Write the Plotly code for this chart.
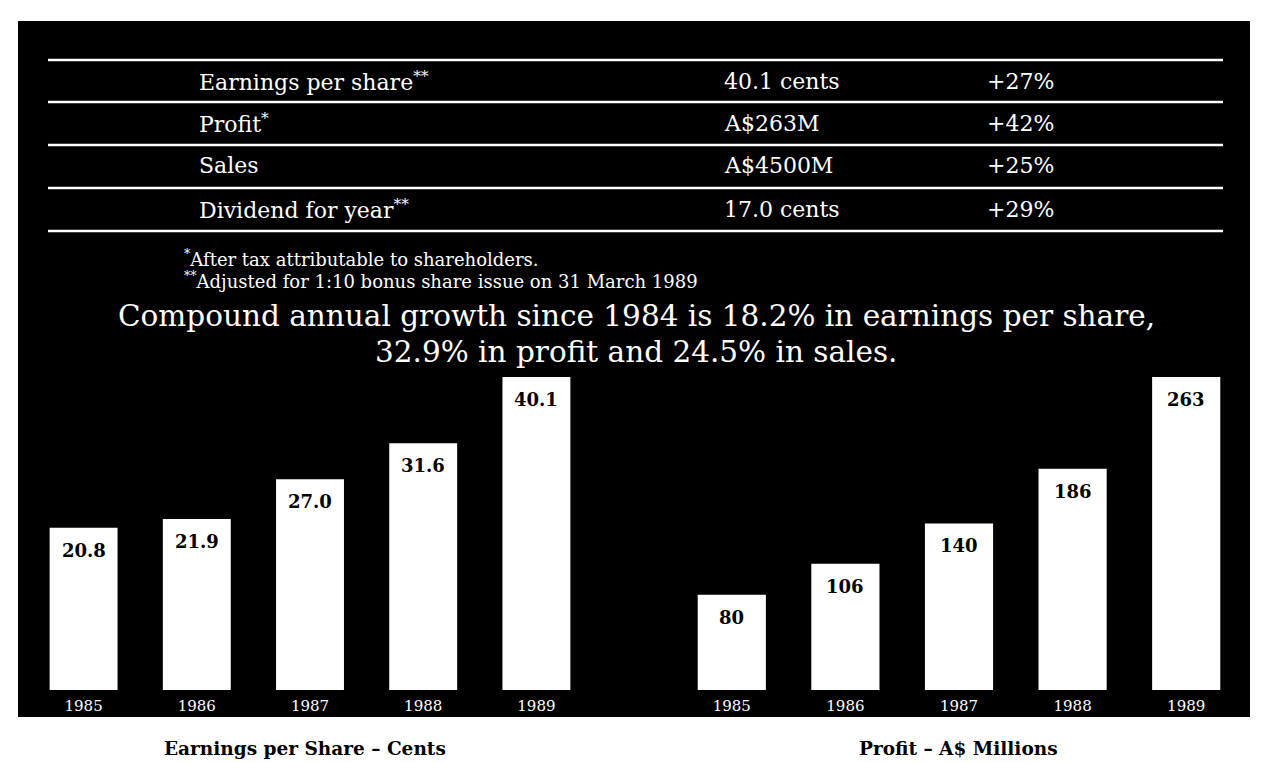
import plotly.graph_objects as go

W, H = 1267, 763

years = ["1985", "1986", "1987", "1988", "1989"]
eps_cents = [20.8, 21.9, 27.0, 31.6, 40.1]
eps_labels = ["20.8", "21.9", "27.0", "31.6", "40.1"]
profit_millions = [80, 106, 140, 186, 263]
profit_labels = ["80", "106", "140", "186", "263"]

table_items = ["Earnings per share<sup>**</sup>", "Profit<sup>*</sup>", "Sales", "Dividend for year<sup>**</sup>"]
table_values = ["40.1 cents", "A$263M", "A$4500M", "17.0 cents"]
table_changes = ["+27%", "+42%", "+25%", "+29%"]

footnotes = ["<sup>*</sup>After tax attributable to shareholders.",
             "<sup>**</sup>Adjusted for 1:10 bonus share issue on 31 March 1989"]
headline = ["Compound annual growth since 1984 is 18.2% in earnings per share,",
            "32.9% in profit and 24.5% in sales."]
captions = ["Earnings per Share \u2013 Cents", "Profit \u2013 A$ Millions"]

SERIF = "DejaVu Serif"

def px(x):
    return x / W

def py(y):
    return 1 - y / H

fig = go.Figure()

fig.add_trace(go.Bar(
    x=years, y=eps_cents, xaxis="x", yaxis="y",
    marker=dict(color="white", line=dict(width=0)),
    hoverinfo="skip", showlegend=False,
))
fig.add_trace(go.Bar(
    x=years, y=profit_millions, xaxis="x2", yaxis="y2",
    marker=dict(color="white", line=dict(width=0)),
    hoverinfo="skip", showlegend=False,
))

ydom = [py(690), py(377)]
xrange = [-0.5, len(years) - 0.5]
xaxis_common = dict(type="category", range=xrange, showgrid=False, zeroline=False,
                    showline=False, ticks="",
                    tickfont=dict(family=SERIF, size=15, color="white"),
                    ticklabelstandoff=5, fixedrange=True)
yaxis_common = dict(showgrid=False, zeroline=False, showline=False,
                    showticklabels=False, ticks="", fixedrange=True)

fig.update_layout(
    width=W, height=H, autosize=False,
    margin=dict(l=0, r=0, t=0, b=0, autoexpand=False),
    paper_bgcolor="white", plot_bgcolor="rgba(0,0,0,0)",
    bargap=0.4,
    xaxis=dict(domain=[px(27), px(593)], anchor="y", **xaxis_common),
    yaxis=dict(domain=ydom, range=[0, max(eps_cents)], anchor="x", **yaxis_common),
    xaxis2=dict(domain=[px(675), px(1243)], anchor="y2", **xaxis_common),
    yaxis2=dict(domain=ydom, range=[0, max(profit_millions)], anchor="x2", **yaxis_common),
)

shapes = [dict(type="rect", xref="paper", yref="paper", x0=px(18), x1=px(1250),
               y0=py(717), y1=py(21), fillcolor="black", line=dict(width=0), layer="below")]
for yl in [60, 102, 145, 188, 231]:
    shapes.append(dict(type="line", xref="paper", yref="paper", x0=px(48), x1=px(1223),
                       y0=py(yl), y1=py(yl), line=dict(color="white", width=2.5)))
fig.update_layout(shapes=shapes)

ann = []
# value labels inside bar tops, placed through the axes (category index positions)
for xr, yr, vals, labs in [("x", "y", eps_cents, eps_labels), ("x2", "y2", profit_millions, profit_labels)]:
    for i, (v, lab) in enumerate(zip(vals, labs)):
        ann.append(dict(x=i, y=v, xref=xr, yref=yr, text=lab, showarrow=False,
                        xanchor="center", yanchor="top", yshift=-10,
                        font=dict(family=SERIF, size=18, color="black", weight="bold")))

row_y = [81, 123, 166, 209]
for i in range(len(table_items)):
    for xpos, txt in [(197, table_items[i]), (722, table_values[i]), (985, table_changes[i])]:
        ann.append(dict(x=px(xpos), y=py(row_y[i]), xref="paper", yref="paper",
                        text=txt, showarrow=False, xanchor="left", yanchor="middle",
                        font=dict(family=SERIF, size=22, color="white")))
for yy, txt in zip([258, 280], footnotes):
    ann.append(dict(x=px(182), y=py(yy), xref="paper", yref="paper", text=txt,
                    showarrow=False, xanchor="left", yanchor="middle",
                    font=dict(family=SERIF, size=18, color="white")))
for yy, txt in zip([316, 352], headline):
    ann.append(dict(x=px(636), y=py(yy), xref="paper", yref="paper", text=txt,
                    showarrow=False, xanchor="center", yanchor="middle",
                    font=dict(family=SERIF, size=29.5, color="white")))
for xx, txt in zip([305, 958], captions):
    ann.append(dict(x=px(xx), y=py(748), xref="paper", yref="paper", text=txt,
                    showarrow=False, xanchor="center", yanchor="middle",
                    font=dict(family=SERIF, size=18.5, color="black", weight="bold")))
fig.update_layout(annotations=ann)

fig.write_html("out.html")
